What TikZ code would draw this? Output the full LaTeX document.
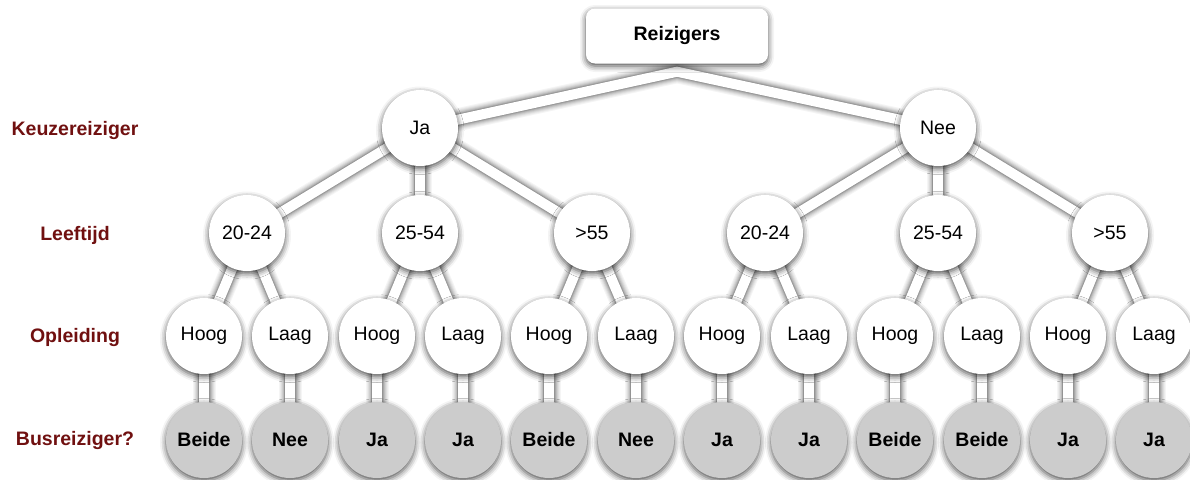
\documentclass[tikz,border=0pt]{standalone}
\usepackage{fontspec}
\setmainfont{Liberation Sans}
\usetikzlibrary{backgrounds,shadows.blur}
\definecolor{lblred}{RGB}{112,16,16}
\definecolor{leafgray}{RGB}{204,204,204}
\tikzset{
  soft/.style={blur shadow={shadow xshift=0pt,shadow yshift=-2.5pt,shadow blur radius=6pt,shadow opacity=70}},
  circ/.style={circle,minimum size=76pt,inner sep=0pt,fill=white,soft,
    font=\fontsize{19.5}{23}\selectfont},
  leaf/.style={circ,fill=leafgray,font=\fontsize{19.5}{23}\selectfont\bfseries},
  rootbox/.style={rectangle,rounded corners=9pt,minimum width=182pt,minimum height=55pt,
    fill=white,soft,font=\fontsize{19.5}{23}\selectfont\bfseries},
  lvl/.style={text=lblred,font=\fontsize{19.5}{23}\selectfont\bfseries},
}
\begin{document}
\begin{tikzpicture}[x=1pt,y=-1pt]
\useasboundingbox (0,0) rectangle (1190,479);
% level labels
\node[lvl] (lk) at (75,130) {Keuzereiziger};
\node[lvl] (ll) at (75,235) {Leeftijd};
\node[lvl] (lo) at (75,337) {Opleiding};
\node[lvl] (lb) at (75,440) {Busreiziger?};
% root
\node[rootbox] (R) at (677,36) {Reizigers};
\coordinate (Rtop) at ([yshift=-8pt]R.south);
% level 1
\node[circ] (ja) at (420,128) {Ja};
\node[circ] (nee) at (938,128) {Nee};
% level 2
\node[circ] (a1) at (247,233) {20-24};
\node[circ] (a2) at (420,233) {25-54};
\node[circ] (a3) at (592,233) {>55};
\node[circ] (b1) at (765,233) {20-24};
\node[circ] (b2) at (938,233) {25-54};
\node[circ] (b3) at (1110,233) {>55};
% level 3
\node[circ] (o1) at (204,336) {Hoog};
\node[circ] (o2) at (290,336) {Laag};
\node[circ] (o3) at (377,336) {Hoog};
\node[circ] (o4) at (463,336) {Laag};
\node[circ] (o5) at (549,336) {Hoog};
\node[circ] (o6) at (636,336) {Laag};
\node[circ] (o7) at (722,336) {Hoog};
\node[circ] (o8) at (809,336) {Laag};
\node[circ] (o9) at (895,336) {Hoog};
\node[circ] (o10) at (982,336) {Laag};
\node[circ] (o11) at (1068,336) {Hoog};
\node[circ] (o12) at (1154,336) {Laag};
% level 4
\node[leaf] (e1) at (204,440) {Beide};
\node[leaf] (e2) at (290,440) {Nee};
\node[leaf] (e3) at (377,440) {Ja};
\node[leaf] (e4) at (463,440) {Ja};
\node[leaf] (e5) at (549,440) {Beide};
\node[leaf] (e6) at (636,440) {Nee};
\node[leaf] (e7) at (722,440) {Ja};
\node[leaf] (e8) at (809,440) {Ja};
\node[leaf] (e9) at (895,440) {Beide};
\node[leaf] (e10) at (982,440) {Beide};
\node[leaf] (e11) at (1068,440) {Ja};
\node[leaf] (e12) at (1154,440) {Ja};
% connectors
\begin{pgfonlayer}{background}
\foreach \w/\c/\s in {23/black!4/-2.5,21/black!8/-2,19/black!13/-1.8,17/black!19/-1.5,15/black!26/-1.2,13/black!34/-0.8,11.5/black!42/-0.4,10/white/0}{
  \begin{scope}[yshift=\s pt]
  \draw[line width=\w pt,draw=\c,line join=miter] (ja.center) -- (Rtop) -- (nee.center);
  \foreach \a/\b in {ja/a1,ja/a2,ja/a3,nee/b1,nee/b2,nee/b3,
      a1/o1,a1/o2,a2/o3,a2/o4,a3/o5,a3/o6,b1/o7,b1/o8,b2/o9,b2/o10,b3/o11,b3/o12,
      o1/e1,o2/e2,o3/e3,o4/e4,o5/e5,o6/e6,o7/e7,o8/e8,o9/e9,o10/e10,o11/e11,o12/e12}{
    \draw[line width=\w pt,draw=\c] (\a.center) -- (\b.center);
  }
  \end{scope}
}
\end{pgfonlayer}
\end{tikzpicture}
\end{document}
